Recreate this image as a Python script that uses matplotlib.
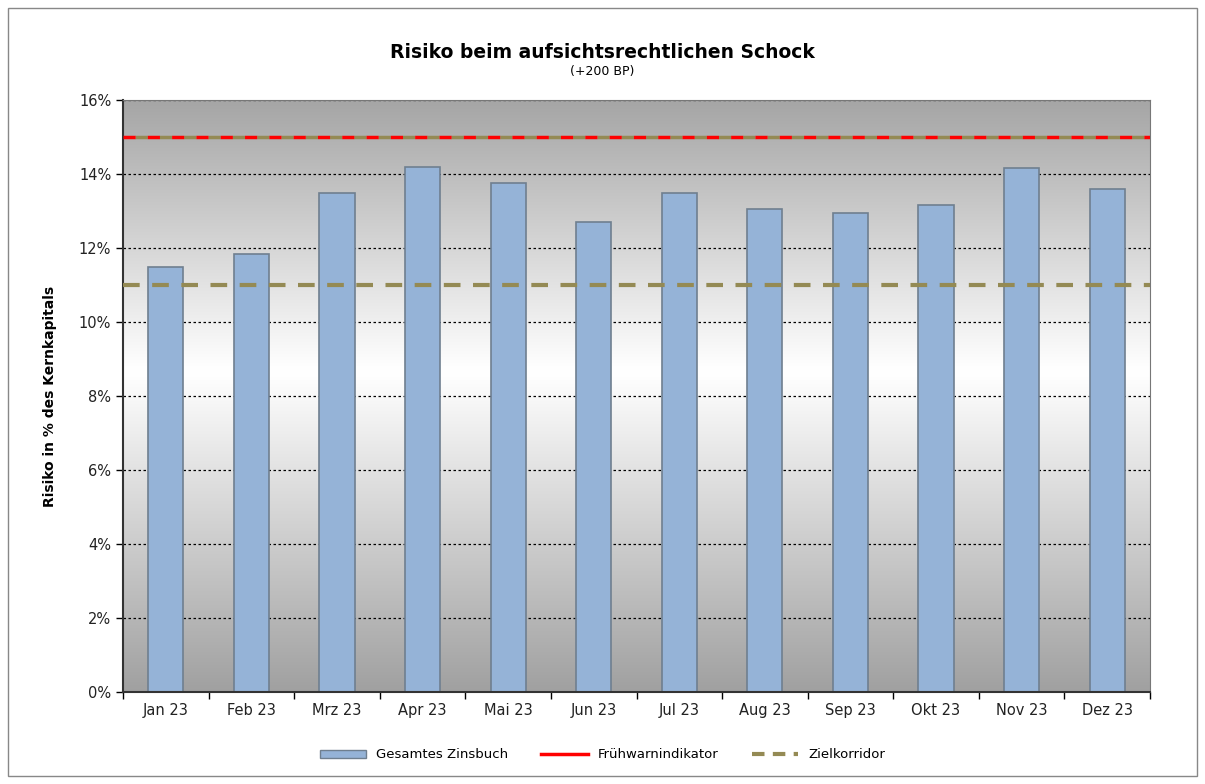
import numpy as np
import matplotlib.pyplot as plt
from matplotlib.lines import Line2D
from matplotlib.patches import Patch, Rectangle
from matplotlib.ticker import PercentFormatter

# -------------------------
# Data
# -------------------------
months = ["Jan 23", "Feb 23", "Mrz 23", "Apr 23", "Mai 23", "Jun 23",
          "Jul 23", "Aug 23", "Sep 23", "Okt 23", "Nov 23", "Dez 23"]
zinsbuch = [11.5, 11.85, 13.5, 14.2, 13.75, 12.7,
            13.5, 13.05, 12.95, 13.15, 14.15, 13.6]
fruehwarn = 15.0
zielkorridor = 11.0

bar_color = "#95b3d7"
olive = "#948a54"

fig = plt.figure(figsize=(12.05, 7.84), dpi=100)
ax = fig.add_axes([123 / 1205, 1 - 692 / 784, (1150 - 123) / 1205, (692 - 100) / 784])

# background gradient: grey at top/bottom, white in the middle
g = np.concatenate([np.linspace(0.65, 1.0, 55), np.linspace(1.0, 0.63, 65)])
grad = np.dstack([g, g, g])[:, None, :].reshape(len(g), 1, 3)
ax.imshow(grad, extent=[0, 1, 0, 1], transform=ax.transAxes, aspect="auto",
          zorder=0, interpolation="bicubic")

x = np.arange(len(months))
ax.set_xlim(-0.5, len(months) - 0.5)
ax.set_ylim(0, 16)

ax.yaxis.grid(True, color="black", linestyle=(0, (2, 2)), linewidth=0.9, zorder=1)
ax.set_axisbelow(True)

ax.bar(x, zinsbuch, width=0.41, color=bar_color, edgecolor="#6f7f8f",
       linewidth=1.2, zorder=2)

ax.axhline(fruehwarn, color="red", linestyle=(0, (3.5, 3.5)), gapcolor=olive,
           linewidth=2.5, zorder=3)
ax.axhline(zielkorridor, color=olive, linestyle=(0, (4, 3)), linewidth=3, zorder=3)

ax.yaxis.set_major_formatter(PercentFormatter(decimals=0))
ax.set_yticks(np.arange(0, 17, 2))
ax.set_xticks(x)
ax.set_xticklabels(months)
ax.set_xticks(np.arange(-0.5, len(months), 1), minor=True)
ax.tick_params(axis="x", which="major", length=0, pad=8, labelsize=10.5, colors="#222222")
ax.tick_params(axis="x", which="minor", length=5, width=1)
ax.tick_params(axis="y", length=5, width=1, labelsize=10.5, colors="black",
               labelcolor="#222222")

for side in ["left", "bottom"]:
    ax.spines[side].set_linewidth(1.5)
    ax.spines[side].set_color("#333333")
for side in ["top", "right"]:
    ax.spines[side].set_linewidth(0.8)
    ax.spines[side].set_color("#777777")

ax.set_ylabel("Risiko in % des Kernkapitals", fontsize=10, fontweight="bold",
              labelpad=16)

fig.text(0.5, 1 - 52 / 784, "Risiko beim aufsichtsrechtlichen Schock",
         ha="center", va="center", fontsize=13.5, fontweight="bold")
fig.text(0.5, 1 - 72 / 784, "(+200 BP)", ha="center", va="center", fontsize=9)

handles = [Patch(facecolor=bar_color, edgecolor="#6f7f8f", label="Gesamtes Zinsbuch"),
           Line2D([], [], color="red", linewidth=2.5, label="Frühwarnindikator"),
           Line2D([], [], color=olive, linewidth=3, linestyle=(0, (3, 2)), label="Zielkorridor")]
fig.legend(handles=handles, loc="center", bbox_to_anchor=(0.5, 1 - 755 / 784),
           ncol=3, frameon=False, fontsize=9.5, handlelength=3.5, columnspacing=2.5,
           handleheight=0.6)

# outer frame
fig.patches.append(Rectangle((8 / 1205, 8 / 784), 1 - 16 / 1205, 1 - 16 / 784,
                             transform=fig.transFigure, fill=False,
                             edgecolor="#888888", linewidth=1))

fig.savefig("out.png", dpi=100)
